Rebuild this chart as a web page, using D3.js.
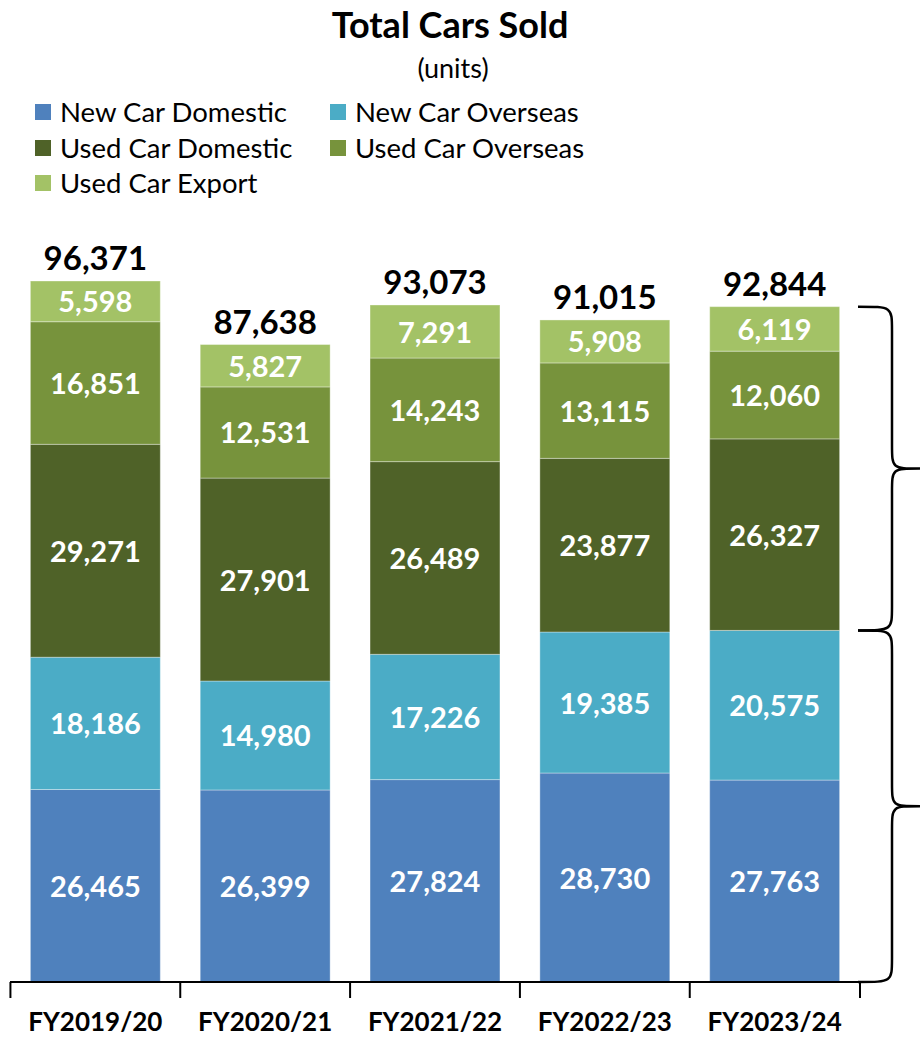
<!DOCTYPE html>
<html>
<head>
<meta charset="utf-8">
<script src="https://cdn.jsdelivr.net/npm/d3@7"></script>
<style>
  body { margin: 0; background: #fff; }
  text { font-family: Lato, "Open Sans", sans-serif; }
</style>
</head>
<body>
<div id="chart"></div>
<script>
// Data
const years = ["FY2019/20", "FY2020/21", "FY2021/22", "FY2022/23", "FY2023/24"];
const seriesNames = ["New Car Domestic", "New Car Overseas", "Used Car Domestic", "Used Car Overseas", "Used Car Export"];
const newCarDomestic = [26465, 26399, 27824, 28730, 27763];
const newCarOverseas = [18186, 14980, 17226, 19385, 20575];
const usedCarDomestic = [29271, 27901, 26489, 23877, 26327];
const usedCarOverseas = [16851, 12531, 14243, 13115, 12060];
const usedCarExport = [5598, 5827, 7291, 5908, 6119];
const totals = [96371, 87638, 93073, 91015, 92844];
const colors = ["#4F81BD", "#4BACC6", "#4F6228", "#77933C", "#A3C266"];

const width = 922, height = 1037;
const yBase = 982;

const rows = years.map((y, i) => ({
  year: y,
  "New Car Domestic": newCarDomestic[i],
  "New Car Overseas": newCarOverseas[i],
  "Used Car Domestic": usedCarDomestic[i],
  "Used Car Overseas": usedCarOverseas[i],
  "Used Car Export": usedCarExport[i],
  total: totals[i]
}));

const stacked = d3.stack().keys(seriesNames)(rows);

const x = d3.scaleBand()
  .domain(years)
  .range([10, 860])
  .paddingInner(0.235)
  .paddingOuter(0.12);

const y = d3.scaleLinear()
  .domain([0, 96371])
  .range([yBase, 281]);

const color = d3.scaleOrdinal().domain(seriesNames).range(colors);
const fmt = d3.format(",");

const svg = d3.select("#chart").append("svg")
  .attr("width", width)
  .attr("height", height);

// Title
svg.append("text")
  .attr("x", 450).attr("y", 38)
  .attr("text-anchor", "middle")
  .attr("font-size", 36).attr("font-weight", "bold")
  .text("Total Cars Sold");
svg.append("text")
  .attr("x", 453).attr("y", 78)
  .attr("text-anchor", "middle")
  .attr("font-size", 27)
  .text("(units)");

// Legend
const legendPos = [[35, 113], [330, 113], [35, 149], [330, 149], [35, 184]];
const legend = svg.append("g").selectAll("g")
  .data(seriesNames)
  .join("g")
  .attr("transform", (d, i) => `translate(${legendPos[i][0]},${legendPos[i][1]})`);
legend.append("rect")
  .attr("x", 0).attr("y", -9)
  .attr("width", 16).attr("height", 16)
  .attr("fill", d => color(d));
legend.append("text")
  .attr("x", 25).attr("y", 9)
  .attr("font-size", 27.5)
  .text(d => d);

// Bars
const layer = svg.append("g").selectAll("g")
  .data(stacked)
  .join("g")
  .attr("fill", d => color(d.key));

layer.selectAll("rect")
  .data(d => d)
  .join("rect")
  .attr("x", d => x(d.data.year))
  .attr("y", d => y(d[1]))
  .attr("width", x.bandwidth())
  .attr("height", d => y(d[0]) - y(d[1]))
  .attr("stroke", "rgba(255,255,255,0.35)")
  .attr("stroke-width", 1);

layer.selectAll("text")
  .data(d => d)
  .join("text")
  .attr("x", d => x(d.data.year) + x.bandwidth() / 2)
  .attr("y", d => (y(d[0]) + y(d[1])) / 2 + 11)
  .attr("text-anchor", "middle")
  .attr("fill", "#fff")
  .attr("font-size", 29).attr("font-weight", "bold")
  .text(d => fmt(d[1] - d[0]));

// Totals
svg.append("g").selectAll("text")
  .data(rows)
  .join("text")
  .attr("x", d => x(d.year) + x.bandwidth() / 2)
  .attr("y", d => y(d.total) - 11)
  .attr("text-anchor", "middle")
  .attr("font-size", 33).attr("font-weight", "bold")
  .text(d => fmt(d.total));

// X axis
const axis = svg.append("g").attr("transform", `translate(0,${yBase})`);
axis.append("line")
  .attr("x1", 10).attr("x2", 860)
  .attr("stroke", "#000").attr("stroke-width", 2);
const ticks = years.map(v => x(v) - x.step() * x.paddingInner() / 2).concat([860]);
axis.selectAll("line.tick")
  .data(ticks)
  .join("line")
  .attr("class", "tick")
  .attr("x1", d => d).attr("x2", d => d)
  .attr("y1", 0).attr("y2", 16)
  .attr("stroke", "#000").attr("stroke-width", 2);
axis.selectAll("text")
  .data(years)
  .join("text")
  .attr("x", d => x(d) + x.bandwidth() / 2)
  .attr("y", 49)
  .attr("text-anchor", "middle")
  .attr("font-size", 26).attr("font-weight", "bold")
  .text(d => d);

// Braces on the right side: used cars (top) and new cars (bottom)
const usedTop = y(rows[4].total);
const split = y(newCarDomestic[4] + newCarOverseas[4]);
function brace(y0, y1) {
  const xl = 858, xm = 892, xt = 920, r = 24;
  const ym = (y0 + y1) / 2;
  return `M${xl},${y0} C${xm},${y0} ${xm},${y0} ${xm},${y0 + r}` +
    ` L${xm},${ym - r} C${xm},${ym} ${xm},${ym} ${xt},${ym}` +
    ` C${xm},${ym} ${xm},${ym} ${xm},${ym + r}` +
    ` L${xm},${y1 - r} C${xm},${y1} ${xm},${y1} ${xl},${y1}`;
}
svg.append("g").selectAll("path")
  .data([[usedTop, split], [split, yBase]])
  .join("path")
  .attr("d", d => brace(d[0], d[1]))
  .attr("fill", "none")
  .attr("stroke", "#000")
  .attr("stroke-width", 2.5);
</script>
</body>
</html>
